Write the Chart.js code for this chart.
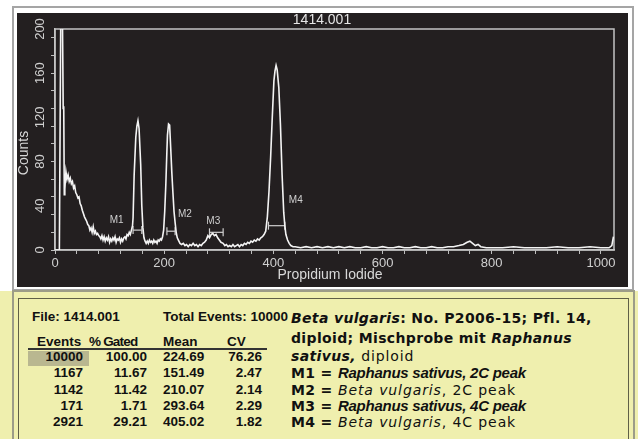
<!DOCTYPE html>
<html>
<head>
<meta charset="utf-8">
<script src="https://cdn.jsdelivr.net/npm/chart.js@4.4.1/dist/chart.umd.min.js"></script>
<style>
  html, body { margin: 0; padding: 0; background: #fff; }
  body { width: 638px; height: 439px; position: relative; overflow: hidden; font-family: "Liberation Sans", Arial, sans-serif; }
  #frame { position: absolute; left: 12px; top: 6px; width: 622px; height: 285px; box-sizing: border-box; border: 2px solid #a5a5a5; background: #fff; }
  #hist { position: absolute; left: 17px; top: 13px; }
  #info { position: absolute; left: 0; top: 291px; width: 638px; height: 148px; background: #efefae; }
  #outer { position: absolute; left: 12px; top: 290px; width: 623px; height: 170px; box-sizing: border-box; border: 2px solid #9c9c88; }
  #inner { position: absolute; left: 18px; top: 298px; width: 611px; height: 160px; box-sizing: border-box; border: 1px solid #5f5f47; }
  .t { position: absolute; line-height: 16px; white-space: nowrap; color: #111; font-weight: bold; font-size: 13.5px; }
  .r { text-align: right; }
  #hl { position: absolute; left: 28px; top: 351px; width: 61px; height: 15px; background: #b9b790; }
  #rule { position: absolute; left: 28px; top: 348px; width: 239px; height: 2px; background: #333; }
  .note { position: absolute; left: 291px; line-height: 18px; white-space: nowrap; color: #111; font-family: "DejaVu Sans", Verdana, sans-serif; font-size: 14px; letter-spacing: 0.9px; }
  .b { font-weight: bold; letter-spacing: 0.35px; }
  .i { font-style: italic; }
  .ar { font-family: "Liberation Sans", Arial, sans-serif; font-weight: bold; font-style: italic; font-size: 15px; letter-spacing: -0.25px; }
</style>
</head>
<body>
<div id="frame"></div>
<canvas id="hist" width="611" height="274"></canvas>
<div id="info"></div>
<div id="outer"></div>
<div id="inner"></div>
<div id="hl"></div>
<div id="rule"></div>
<div id="table"></div>

<div class="note" style="top:309px"><span class="b i">Beta vulgaris</span><span class="b">: No. P2006-15; Pfl. 14,</span></div>
<div class="note" style="top:329px"><span class="b">diploid; Mischprobe mit </span><span class="b i">Raphanus</span></div>
<div class="note" style="top:347px"><span class="b i">sativus,</span> diploid</div>
<div class="note" style="top:364px"><span class="b">M1 = </span><span class="ar">Raphanus sativus, 2C peak</span></div>
<div class="note" style="top:381px"><span class="b">M2 = </span><span class="i">Beta vulgaris</span>, 2C peak</div>
<div class="note" style="top:397px"><span class="b">M3 = </span><span class="ar">Raphanus sativus, 4C peak</span></div>
<div class="note" style="top:413px"><span class="b">M4 = </span><span class="i">Beta vulgaris</span>, 4C peak</div>

<script>
// histogram: channel -> counts
const channels = [0, 8, 11, 13, 15, 16, 17, 18, 20, 22, 24, 26, 28, 30, 32, 34, 36, 38, 40, 42, 44, 46, 48, 50,
  52, 54, 56, 58, 60, 62, 64, 66, 68, 70, 72, 74, 76, 78, 80, 82, 84, 86, 88, 90, 92, 94, 96, 98, 100,
  102, 104, 106, 108, 110, 112, 114, 116, 118, 120, 122, 124, 126, 128, 130, 132, 134, 136, 138, 140,
  142, 143, 145, 148, 150, 152, 154, 157, 159, 161, 163, 165, 167, 169, 171, 173, 175, 177, 179, 181,
  183, 185, 187, 189, 191, 193, 195, 197, 199, 201, 203, 205, 206, 208, 210, 212, 214, 216, 218, 220,
  222, 224, 226, 229, 232, 235, 238, 241, 244, 247, 250, 253, 256, 259, 262, 265, 268, 271, 274, 277,
  280, 283, 286, 289, 292, 295, 298, 301, 304, 308, 311, 314, 317, 320, 323, 326, 329, 332, 335, 338,
  341, 344, 347, 350, 353, 356, 359, 362, 365, 368, 371, 374, 377, 380, 383, 386, 389, 392, 395, 398,
  401, 403, 405, 407, 410, 413, 416, 419, 421, 423, 426, 429, 432, 436, 440, 450, 460, 470, 480, 490,
  500, 510, 520, 530, 540, 550, 560, 570, 580, 590, 600, 610, 620, 630, 640, 650, 660, 670, 680, 690,
  700, 710, 720, 730, 740, 748, 755, 760, 765, 770, 775, 780, 790, 800, 820, 840, 860, 880, 900, 920,
  940, 960, 980, 1000, 1015, 1020, 1023];
const counts = [0, 0, 250, 250, 128, 130, 50, 55, 71, 64, 68, 62, 65, 60, 62, 56, 58, 52, 50, 47, 48, 42, 40, 36,
  33, 30, 28, 26, 23, 22, 18, 20, 16, 21, 15, 17, 14, 15, 13, 12, 10, 13, 9, 12, 8, 11, 9, 12, 7,
  10, 8, 11, 9, 12, 7, 10, 9, 11, 7, 10, 8, 11, 12, 10, 14, 13, 16, 14, 18,
  22, 29, 68, 102, 112, 117, 110, 77, 40, 20, 11, 8, 6, 8, 6, 9, 7, 8, 6, 9,
  7, 8, 6, 9, 8, 10, 9, 12, 18, 35, 59, 90, 104, 114, 113, 92, 70, 52, 35, 25,
  16, 11, 9, 6, 5, 6, 4, 5, 3, 5, 4, 6, 4, 5, 3, 5, 4, 6, 7, 9,
  13, 11, 14, 15, 13, 14, 11, 9, 7, 6, 4, 5, 3, 4, 3, 5, 3, 4, 5, 3,
  5, 4, 6, 5, 7, 6, 8, 7, 9, 8, 10, 9, 11, 12, 14, 17, 30, 53, 84, 120,
  153, 162, 167, 163, 147, 113, 68, 34, 22, 14, 9, 6, 4, 3, 3, 2, 3, 2, 3, 2,
  3, 2, 3, 2, 3, 2, 2, 3, 2, 2, 3, 2, 2, 3, 2, 2, 3, 2, 2, 3,
  2, 2, 3, 3, 4, 5, 7, 8, 6, 4, 5, 3, 2, 2, 2, 3, 2, 2, 2, 3,
  2, 2, 3, 2, 2, 4, 12];

// gates
const markerNames = ['M1', 'M2', 'M3', 'M4'];
const markerStart = [143, 205, 283, 391];
const markerEnd = [159, 220, 308, 421];
const markerLevel = [18, 17, 16, 22];
const markerLabelX = [113, 238, 290, 441];
const markerLabelY = [27, 32, 26, 45];

// axes
const xTickLabels = [0, 200, 400, 600, 800, 1000];
const yTickLabels = [0, 40, 80, 120, 160, 200];

// statistics table
const tableEvents = ['10000', '1167', '1142', '171', '2921'];
const tableGated = ['100.00', '11.67', '11.42', '1.71', '29.21'];
const tableMean = ['224.69', '151.49', '210.07', '293.64', '405.02'];
const tableCV = ['76.26', '2.47', '2.14', '2.29', '1.82'];

const axisFont = '"Liberation Sans", Arial, sans-serif';
const narrowFont = '"Liberation Sans Narrow", "Liberation Sans", Arial, sans-serif';

// table html
let html = '';
html += '<div class="t" style="left:32px;top:309px">File: 1414.001</div>';
html += '<div class="t" style="left:163px;top:309px">Total Events: 10000</div>';
html += '<div class="t" style="left:37px;top:334px">Events</div>';
html += '<div class="t" style="left:89px;top:334px;letter-spacing:-0.8px">% Gated</div>';
html += '<div class="t" style="left:163px;top:334px">Mean</div>';
html += '<div class="t" style="left:227px;top:334px">CV</div>';
tableEvents.forEach((ev, i) => {
  const top = Math.round(349 + i * 16.3);
  html += `<div class="t r" style="left:28px;width:55px;top:${top}px">${ev}</div>`;
  html += `<div class="t r" style="left:90px;width:57px;top:${top}px">${tableGated[i]}</div>`;
  html += `<div class="t" style="left:163px;top:${top}px">${tableMean[i]}</div>`;
  html += `<div class="t r" style="left:210px;width:52px;top:${top}px">${tableCV[i]}</div>`;
});
document.getElementById('table').innerHTML = html;

// black panel, frame and all the extra text
const panelPlugin = {
  id: 'panel',
  beforeDraw(chart) {
    const c = chart.ctx;
    c.save();
    c.fillStyle = '#231f20';
    c.fillRect(0, 0, chart.width, chart.height);
    c.restore();
  },
  beforeDatasetsDraw(chart) {
    const c = chart.ctx;
    const a = chart.chartArea;
    c.save();
    c.strokeStyle = '#c4c4c4';
    c.lineWidth = 1.5;
    c.strokeRect(a.left, a.top, a.right - a.left, a.bottom - a.top);
    c.restore();
  },
  afterDraw(chart) {
    const c = chart.ctx;
    const xs = chart.scales.x;
    const ys = chart.scales.y;
    c.save();
    c.fillStyle = '#e6e6e6';
    c.font = '14px ' + axisFont;
    c.textAlign = 'center';
    c.textBaseline = 'middle';
    c.fillText('1414.001', 305, 7);

    // rotated y tick labels
    c.fillStyle = '#d0d0d0';
    c.font = '13px ' + narrowFont;
    yTickLabels.forEach(v => {
      c.save();
      c.translate(23, ys.getPixelForValue(v));
      c.rotate(-Math.PI / 2);
      c.fillText(String(v), 0, 0);
      c.restore();
    });

    c.fillStyle = '#d8d8d8';
    c.font = '14px ' + axisFont;
    c.save();
    c.translate(7, 140);
    c.rotate(-Math.PI / 2);
    c.fillText('Counts', 0, 0);
    c.restore();
    c.fillText('Propidium Iodide', 313, 262);

    // gate labels
    c.fillStyle = '#cfcfcf';
    c.font = '10px ' + axisFont;
    markerNames.forEach((n, i) => {
      c.fillText(n, xs.getPixelForValue(markerLabelX[i]), ys.getPixelForValue(markerLabelY[i]));
    });
    c.restore();
  }
};

const datasets = [{
  data: channels.map((ch, i) => ({ x: ch, y: counts[i] })),
  borderColor: '#f4f4f4',
  borderWidth: 1.6,
  pointRadius: 0,
  tension: 0
}];
markerNames.forEach((n, i) => {
  datasets.push({
    data: [{ x: markerStart[i], y: markerLevel[i] }, { x: markerEnd[i], y: markerLevel[i] }],
    borderColor: '#cfcfcf',
    borderWidth: 1.2,
    pointStyle: 'line',
    rotation: 90,
    pointRadius: 4,
    pointBorderColor: '#cfcfcf',
    pointBorderWidth: 1.2
  });
});

new Chart(document.getElementById('hist'), {
  type: 'line',
  data: { datasets },
  options: {
    responsive: false,
    animation: false,
    layout: { padding: { top: 16, right: 14, left: 0, bottom: 0 } },
    plugins: { legend: { display: false }, tooltip: { enabled: false } },
    scales: {
      x: {
        type: 'linear',
        min: 0,
        max: 1024,
        afterBuildTicks: s => {
          const t = [];
          for (let v = 0; v <= 1000; v += 40) t.push({ value: v });
          s.ticks = t;
        },
        afterFit: s => { s.height = 37; },
        grid: { drawOnChartArea: false, color: '#bdbdbd', tickLength: 4 },
        border: { color: '#c4c4c4', width: 1.5 },
        ticks: {
          color: '#d0d0d0',
          font: { family: axisFont, size: 13 },
          padding: 2,
          maxRotation: 0,
          autoSkip: false,
          callback: v => xTickLabels.includes(v) ? String(v) : ''
        }
      },
      y: {
        min: 0,
        max: 200,
        afterBuildTicks: s => {
          const t = [];
          for (let v = 0; v <= 200; v += 8) t.push({ value: v });
          s.ticks = t;
        },
        afterFit: s => { s.width = 38; },
        grid: { drawOnChartArea: false, color: '#bdbdbd', tickLength: 4 },
        border: { color: '#c4c4c4', width: 1.5 },
        ticks: { callback: () => '' }
      }
    }
  },
  plugins: [panelPlugin]
});
</script>
</body>
</html>
